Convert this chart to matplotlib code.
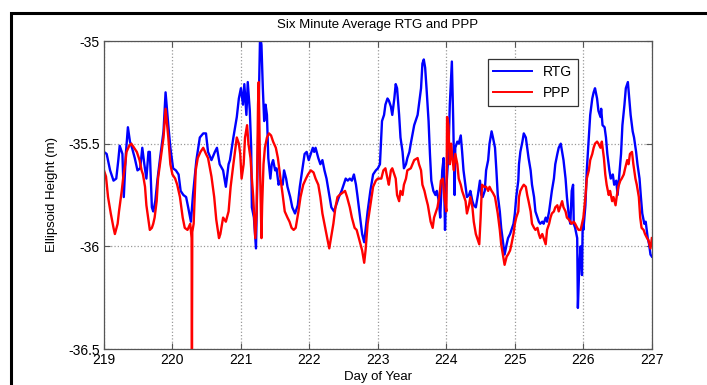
import matplotlib
matplotlib.use('Agg')
import matplotlib.pyplot as plt
from matplotlib.patches import Rectangle

plt.rcParams['font.family'] = ['Liberation Sans', 'DejaVu Sans']
plt.rcParams['axes.unicode_minus'] = False

# values (day of year, ellipsoid height in m)
rtg_day = [219.00, 219.04, 219.09, 219.14, 219.18, 219.21, 219.23, 219.27, 219.29, 219.32,
           219.35, 219.38, 219.41, 219.45, 219.49, 219.53, 219.56, 219.59, 219.62, 219.65,
           219.67, 219.70, 219.72, 219.75, 219.78, 219.82, 219.87, 219.90, 219.94, 219.97,
           220.01, 220.05, 220.09, 220.12, 220.16, 220.20, 220.23, 220.27, 220.30, 220.35,
           220.40, 220.45, 220.49, 220.52, 220.57, 220.62, 220.65, 220.69, 220.74, 220.78,
           220.82, 220.84, 220.89, 220.94, 220.97, 221.00, 221.03, 221.05, 221.08, 221.10,
           221.13, 221.15, 221.16, 221.19, 221.22, 221.24, 221.26, 221.28, 221.30, 221.32,
           221.34, 221.36, 221.38, 221.40, 221.43, 221.45, 221.47, 221.50, 221.52, 221.55,
           221.57, 221.61, 221.63, 221.66, 221.68, 221.72, 221.75, 221.79, 221.83, 221.86,
           221.90, 221.93, 221.96, 221.99, 222.02, 222.05, 222.07, 222.09, 222.13, 222.16,
           222.19, 222.22, 222.25, 222.29, 222.32, 222.36, 222.39, 222.43, 222.47, 222.50,
           222.53, 222.56, 222.59, 222.62, 222.65, 222.68, 222.70, 222.73, 222.77, 222.80,
           222.82, 222.85, 222.89, 222.93, 222.97, 223.00, 223.03, 223.06, 223.09, 223.11,
           223.14, 223.16, 223.19, 223.21, 223.24, 223.26, 223.28, 223.31, 223.33, 223.36,
           223.38, 223.41, 223.43, 223.46, 223.48, 223.53, 223.58, 223.63, 223.65, 223.67,
           223.69, 223.71, 223.74, 223.76, 223.78, 223.81, 223.84, 223.86, 223.89, 223.91,
           223.94, 223.96, 223.98, 224.00, 224.03, 224.05, 224.08, 224.10, 224.12, 224.13,
           224.16, 224.18, 224.21, 224.23, 224.25, 224.28, 224.30, 224.33, 224.35, 224.38,
           224.40, 224.43, 224.46, 224.49, 224.51, 224.53, 224.56, 224.58, 224.61, 224.63,
           224.66, 224.68, 224.71, 224.73, 224.75, 224.78, 224.80, 224.83, 224.85, 224.88,
           224.90, 224.93, 224.95, 224.98, 225.00, 225.02, 225.05, 225.06, 225.08, 225.11,
           225.13, 225.16, 225.18, 225.20, 225.23, 225.25, 225.28, 225.30, 225.33, 225.35,
           225.37, 225.40, 225.42, 225.45, 225.47, 225.50, 225.52, 225.54, 225.57, 225.59,
           225.62, 225.64, 225.67, 225.69, 225.71, 225.74, 225.76, 225.79, 225.81, 225.83,
           225.85, 225.86, 225.88, 225.91, 225.92, 225.94, 225.96, 225.98, 225.99, 226.00,
           226.03, 226.05, 226.08, 226.10, 226.13, 226.15, 226.17, 226.20, 226.22, 226.25,
           226.26, 226.28, 226.31, 226.33, 226.35, 226.38, 226.40, 226.43, 226.45, 226.48,
           226.50, 226.52, 226.55, 226.57, 226.60, 226.62, 226.65, 226.67, 226.69, 226.72,
           226.74, 226.77, 226.79, 226.82, 226.84, 226.86, 226.89, 226.91, 226.94, 226.96,
           226.98, 227.00]
rtg_height = [-35.54, -35.55, -35.63, -35.68, -35.67, -35.58, -35.51, -35.55, -35.76, -35.55,
              -35.42, -35.49, -35.52, -35.57, -35.63, -35.62, -35.52, -35.60, -35.67, -35.54,
              -35.54, -35.81, -35.83, -35.78, -35.68, -35.57, -35.44, -35.25, -35.41, -35.52,
              -35.62, -35.63, -35.65, -35.73, -35.75, -35.76, -35.81, -35.88, -35.75, -35.58,
              -35.47, -35.45, -35.45, -35.54, -35.58, -35.54, -35.52, -35.60, -35.63, -35.71,
              -35.60, -35.58, -35.47, -35.37, -35.28, -35.23, -35.31, -35.21, -35.36, -35.20,
              -35.34, -35.52, -35.81, -35.86, -36.01, -35.67, -35.31, -34.97, -35.02, -35.23,
              -35.39, -35.31, -35.36, -35.57, -35.67, -35.60, -35.58, -35.63, -35.62, -35.70,
              -35.68, -35.70, -35.63, -35.67, -35.71, -35.76, -35.81, -35.84, -35.80, -35.71,
              -35.62, -35.55, -35.54, -35.58, -35.55, -35.52, -35.54, -35.52, -35.57, -35.60,
              -35.58, -35.63, -35.67, -35.75, -35.81, -35.83, -35.80, -35.76, -35.73, -35.70,
              -35.67, -35.68, -35.67, -35.68, -35.65, -35.70, -35.75, -35.83, -35.94, -35.98,
              -35.92, -35.83, -35.73, -35.65, -35.63, -35.62, -35.60, -35.39, -35.36, -35.31,
              -35.28, -35.29, -35.32, -35.36, -35.28, -35.21, -35.23, -35.36, -35.47, -35.54,
              -35.62, -35.60, -35.57, -35.54, -35.50, -35.41, -35.36, -35.23, -35.11, -35.09,
              -35.13, -35.23, -35.39, -35.55, -35.68, -35.73, -35.75, -35.73, -35.78, -35.86,
              -35.63, -35.57, -35.92, -35.71, -35.55, -35.31, -35.10, -35.39, -35.75, -35.52,
              -35.49, -35.50, -35.46, -35.54, -35.63, -35.71, -35.76, -35.75, -35.73, -35.78,
              -35.80, -35.81, -35.75, -35.68, -35.75, -35.76, -35.73, -35.63, -35.58, -35.50,
              -35.44, -35.47, -35.52, -35.63, -35.75, -35.83, -35.91, -35.99, -36.04, -35.99,
              -35.96, -35.94, -35.92, -35.89, -35.84, -35.76, -35.68, -35.60, -35.54, -35.49,
              -35.45, -35.47, -35.52, -35.57, -35.63, -35.70, -35.76, -35.83, -35.86, -35.88,
              -35.89, -35.88, -35.89, -35.86, -35.88, -35.83, -35.78, -35.73, -35.67, -35.60,
              -35.55, -35.52, -35.50, -35.54, -35.58, -35.67, -35.76, -35.86, -35.89, -35.73,
              -35.70, -35.89, -35.91, -35.96, -36.30, -36.10, -36.00, -36.14, -35.89, -35.92,
              -35.80, -35.63, -35.47, -35.36, -35.28, -35.25, -35.23, -35.28, -35.34, -35.37,
              -35.33, -35.41, -35.42, -35.47, -35.55, -35.63, -35.67, -35.65, -35.70, -35.68,
              -35.75, -35.67, -35.55, -35.41, -35.31, -35.23, -35.20, -35.28, -35.36, -35.44,
              -35.47, -35.54, -35.60, -35.67, -35.76, -35.84, -35.89, -35.88, -35.96, -35.99,
              -36.04, -36.05]

ppp_day = [219.00, 219.03, 219.06, 219.10, 219.14, 219.16, 219.20, 219.22, 219.26, 219.28,
           219.31, 219.33, 219.37, 219.40, 219.44, 219.48, 219.52, 219.55, 219.57, 219.60,
           219.62, 219.65, 219.67, 219.70, 219.72, 219.74, 219.77, 219.79, 219.83, 219.87,
           219.90, 219.94, 219.97, 220.00, 220.04, 220.07, 220.11, 220.15, 220.18, 220.22,
           220.26, 220.28, 220.285, 220.29, 220.31, 220.34, 220.37, 220.41, 220.45, 220.49,
           220.52, 220.57, 220.61, 220.64, 220.68, 220.70, 220.74, 220.78, 220.82, 220.85,
           220.89, 220.94, 220.97, 220.99, 221.01, 221.04, 221.06, 221.09, 221.11, 221.14,
           221.16, 221.18, 221.21, 221.23, 221.25, 221.26, 221.28, 221.30, 221.31, 221.33,
           221.35, 221.38, 221.41, 221.44, 221.47, 221.51, 221.54, 221.57, 221.61, 221.64,
           221.68, 221.71, 221.74, 221.77, 221.80, 221.84, 221.87, 221.91, 221.95, 221.98,
           222.02, 222.06, 222.09, 222.13, 222.16, 222.19, 222.23, 222.26, 222.29, 222.31,
           222.35, 222.38, 222.41, 222.44, 222.48, 222.52, 222.55, 222.59, 222.62, 222.66,
           222.69, 222.73, 222.77, 222.80, 222.82, 222.85, 222.89, 222.93, 222.97, 223.00,
           223.03, 223.05, 223.08, 223.11, 223.14, 223.16, 223.19, 223.21, 223.24, 223.26,
           223.28, 223.31, 223.33, 223.36, 223.38, 223.41, 223.43, 223.48, 223.53, 223.58,
           223.60, 223.63, 223.65, 223.68, 223.70, 223.73, 223.75, 223.77, 223.80, 223.82,
           223.85, 223.87, 223.90, 223.92, 223.95, 223.97, 224.00, 224.01, 224.03, 224.05,
           224.07, 224.09, 224.11, 224.13, 224.16, 224.18, 224.21, 224.23, 224.25, 224.28,
           224.30, 224.33, 224.35, 224.38, 224.40, 224.43, 224.45, 224.48, 224.50, 224.52,
           224.55, 224.58, 224.61, 224.63, 224.66, 224.68, 224.71, 224.73, 224.75, 224.78,
           224.80, 224.83, 224.85, 224.88, 224.90, 224.93, 224.95, 224.98, 225.00, 225.02,
           225.05, 225.06, 225.08, 225.11, 225.13, 225.16, 225.18, 225.20, 225.23, 225.25,
           225.28, 225.30, 225.33, 225.35, 225.37, 225.40, 225.42, 225.45, 225.47, 225.50,
           225.52, 225.54, 225.57, 225.59, 225.62, 225.64, 225.67, 225.69, 225.71, 225.74,
           225.76, 225.79, 225.81, 225.83, 225.86, 225.88, 225.91, 225.93, 225.96, 225.98,
           226.00, 226.03, 226.05, 226.08, 226.10, 226.13, 226.15, 226.17, 226.20, 226.22,
           226.25, 226.27, 226.30, 226.32, 226.34, 226.37, 226.39, 226.42, 226.44, 226.47,
           226.49, 226.51, 226.54, 226.56, 226.59, 226.61, 226.64, 226.66, 226.68, 226.71,
           226.73, 226.76, 226.78, 226.81, 226.83, 226.85, 226.88, 226.90, 226.93, 226.95,
           226.98, 227.00]
ppp_height = [-35.63, -35.66, -35.76, -35.84, -35.91, -35.94, -35.89, -35.83, -35.73, -35.67,
              -35.60, -35.54, -35.51, -35.50, -35.52, -35.54, -35.58, -35.63, -35.65, -35.71,
              -35.80, -35.87, -35.92, -35.91, -35.89, -35.86, -35.78, -35.67, -35.57, -35.47,
              -35.33, -35.47, -35.60, -35.65, -35.67, -35.70, -35.76, -35.86, -35.91, -35.92,
              -35.89, -35.96, -36.60, -35.93, -35.89, -35.63, -35.57, -35.54, -35.52, -35.55,
              -35.57, -35.66, -35.76, -35.87, -35.96, -35.94, -35.86, -35.88, -35.83, -35.71,
              -35.60, -35.47, -35.50, -35.55, -35.67, -35.60, -35.47, -35.41, -35.50, -35.57,
              -35.67, -35.76, -35.96, -35.83, -35.31, -35.20, -35.63, -35.96, -35.80, -35.60,
              -35.52, -35.47, -35.45, -35.46, -35.49, -35.52, -35.57, -35.65, -35.75, -35.83,
              -35.86, -35.88, -35.91, -35.92, -35.91, -35.83, -35.76, -35.70, -35.67, -35.65,
              -35.63, -35.64, -35.67, -35.70, -35.76, -35.84, -35.91, -35.96, -36.01, -35.97,
              -35.89, -35.81, -35.76, -35.75, -35.74, -35.73, -35.76, -35.81, -35.86, -35.91,
              -35.92, -35.97, -36.02, -36.08, -36.02, -35.89, -35.80, -35.71, -35.68, -35.67,
              -35.67, -35.67, -35.63, -35.62, -35.67, -35.70, -35.63, -35.62, -35.65, -35.67,
              -35.75, -35.78, -35.73, -35.75, -35.70, -35.67, -35.63, -35.62, -35.58, -35.57,
              -35.60, -35.63, -35.70, -35.73, -35.76, -35.80, -35.84, -35.88, -35.91, -35.86,
              -35.83, -35.81, -35.75, -35.68, -35.67, -35.76, -35.83, -35.37, -35.41, -35.60,
              -35.50, -35.58, -35.63, -35.55, -35.60, -35.67, -35.70, -35.73, -35.75, -35.78,
              -35.84, -35.80, -35.76, -35.81, -35.88, -35.94, -35.96, -35.99, -35.86, -35.70,
              -35.71, -35.71, -35.73, -35.71, -35.73, -35.74, -35.76, -35.80, -35.84, -35.92,
              -35.99, -36.05, -36.09, -36.05, -36.04, -36.02, -35.99, -35.94, -35.89, -35.86,
              -35.83, -35.76, -35.73, -35.71, -35.70, -35.71, -35.75, -35.78, -35.83, -35.89,
              -35.91, -35.92, -35.91, -35.94, -35.96, -35.94, -35.96, -35.99, -35.92, -35.89,
              -35.86, -35.84, -35.83, -35.81, -35.80, -35.83, -35.80, -35.78, -35.81, -35.83,
              -35.86, -35.87, -35.88, -35.89, -35.88, -35.89, -35.91, -35.92, -35.92, -35.89,
              -35.86, -35.76, -35.67, -35.63, -35.58, -35.55, -35.52, -35.50, -35.49, -35.50,
              -35.52, -35.49, -35.57, -35.65, -35.70, -35.75, -35.73, -35.78, -35.76, -35.80,
              -35.75, -35.71, -35.68, -35.67, -35.65, -35.62, -35.58, -35.60, -35.55, -35.54,
              -35.60, -35.67, -35.70, -35.76, -35.86, -35.91, -35.92, -35.94, -35.96, -35.97,
              -36.01, -35.96]

x_ticks = [219, 220, 221, 222, 223, 224, 225, 226, 227]
y_ticks = [-36.5, -36, -35.5, -35]
y_tick_labels = ['-36.5', '-36', '-35.5', '-35']

fig = plt.figure(figsize=(7.07, 3.85), dpi=100)
ax = fig.add_axes([0.147, 0.0935, 0.775, 0.80])

ax.plot(rtg_day, rtg_height, color='#0000ff', lw=1.7, label='RTG')
ax.plot(ppp_day, ppp_height, color='#ff0000', lw=1.7, label='PPP')

ax.set_xlim(219, 227)
ax.set_ylim(-36.5, -35)
ax.set_xticks(x_ticks)
ax.set_yticks(y_ticks)
ax.set_yticklabels(y_tick_labels)
ax.grid(True, linestyle=':', color='#999999', lw=0.9)
ax.tick_params(direction='in', top=True, right=True, labelsize=10, length=4,
               color='#555555', pad=3)
for s in ax.spines.values():
    s.set_color('#555555')
    s.set_linewidth(0.9)

leg = ax.legend(loc='upper right', bbox_to_anchor=(0.865, 0.94), fancybox=False,
                edgecolor='#333333', fontsize=10, handlelength=2.8, borderaxespad=0,
                framealpha=1)
leg.get_frame().set_linewidth(0.9)
for h in leg.get_lines():
    h.set_linewidth(1.4)

fig.text(378 / 707, 1 - 25 / 385, 'Six Minute Average RTG and PPP', ha='center', va='center',
         fontsize=9.5)
fig.text(378 / 707, 1 - 377 / 385, 'Day of Year', ha='center', va='center', fontsize=9.5)
fig.text(52 / 707, 1 - 195 / 385, 'Ellipsoid Height (m)', ha='center', va='center',
         rotation=90, fontsize=9.5)

# black frame around the picture, cut off at the right and bottom
fig.add_artist(Rectangle((11 / 707, -0.1), 1.2, 1 - 13 / 385 + 0.1, transform=fig.transFigure,
                         fill=False, edgecolor='black', lw=2.2))

fig.savefig('out.png', dpi=100)
